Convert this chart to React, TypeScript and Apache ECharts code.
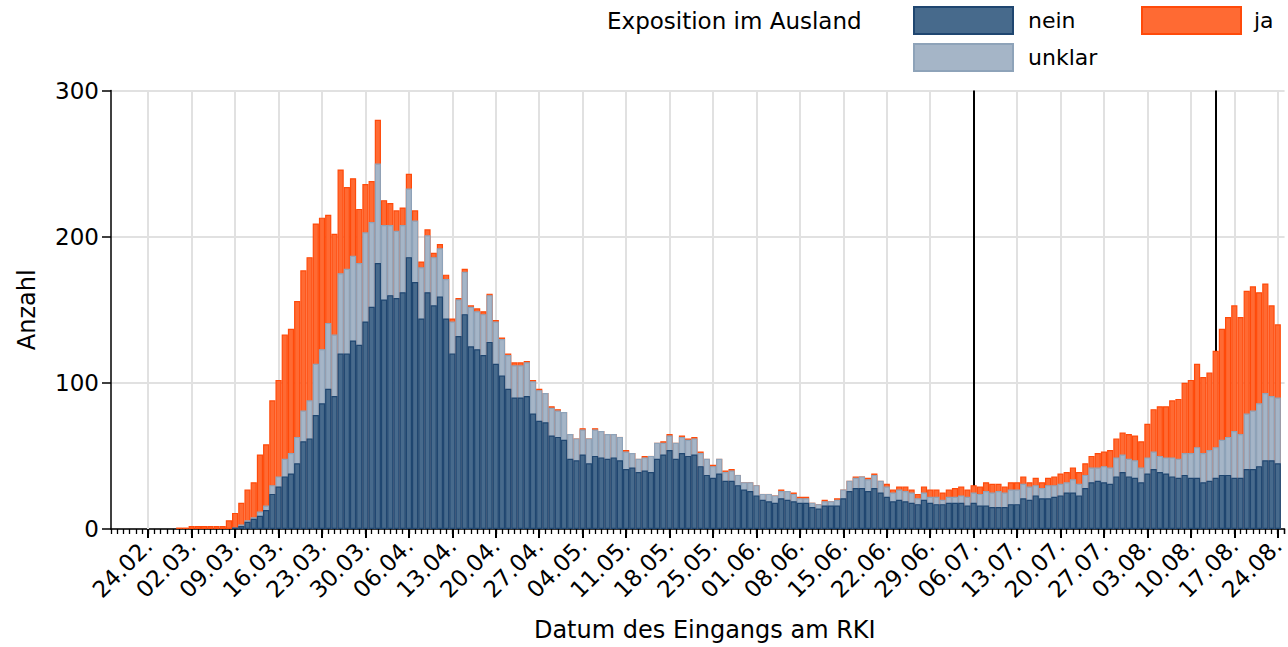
import React, { useEffect, useRef } from 'react';
import * as echarts from 'echarts';

// Day numbers are counted from 24.02. (day 0); the first bar is 19.02.
const FIRST_DAY = -5;
const weekLabels = [
  '24.02.', '02.03.', '09.03.', '16.03.', '23.03.', '30.03.', '06.04.', '13.04.', '20.04.',
  '27.04.', '04.05.', '11.05.', '18.05.', '25.05.', '01.06.', '08.06.', '15.06.', '22.06.',
  '29.06.', '06.07.', '13.07.', '20.07.', '27.07.', '03.08.', '10.08.', '17.08.', '24.08.',
];
const markerDays = [133, 172]; // 06.07. and 14.08.

const nein = [
  0, 0, 0, 0, 0,
  0, 0, 0, 0, 0, 0, 0,
  0, 0, 0, 0, 0, 0, 0,
  1, 2, 5, 7, 9, 13, 24,
  29, 36, 38, 45, 60, 62, 78,
  86, 96, 91, 120, 120, 129, 126,
  142, 152, 182, 157, 160, 158, 162,
  186, 169, 144, 162, 153, 159, 144,
  120, 132, 147, 125, 123, 119, 128,
  113, 105, 96, 90, 90, 91, 79,
  74, 73, 64, 63, 61, 48, 47,
  51, 45, 50, 49, 48, 49, 47,
  41, 42, 39, 40, 39, 48, 51,
  54, 48, 52, 50, 51, 43, 37,
  35, 38, 33, 33, 30, 27, 26,
  23, 20, 19, 18, 21, 20, 19,
  18, 18, 15, 14, 16, 16, 16,
  21, 26, 28, 28, 26, 28, 25,
  22, 19, 20, 19, 18, 17, 20,
  18, 17, 17, 18, 18, 18, 16,
  18, 16, 16, 15, 15, 15, 17,
  17, 21, 20, 23, 21, 21, 22,
  23, 25, 25, 23, 28, 32, 33,
  32, 31, 36, 39, 36, 35, 32,
  38, 41, 39, 38, 36, 35, 37,
  35, 35, 32, 33, 35, 37, 37,
  35, 35, 41, 41, 43, 47, 47,
  45,
];
const unklar = [
  0, 0, 0, 0, 0,
  0, 0, 0, 0, 0, 0, 0,
  0, 0, 0, 0, 0, 0, 0,
  0, 1, 1, 1, 3, 3, 6,
  7, 12, 14, 18, 21, 26, 35,
  37, 45, 42, 55, 58, 58, 56,
  61, 58, 68, 51, 48, 46, 46,
  47, 42, 35, 39, 33, 33, 27,
  22, 25, 29, 27, 26, 28, 32,
  29, 25, 23, 22, 22, 23, 22,
  21, 20, 19, 18, 19, 17, 15,
  17, 17, 18, 18, 17, 16, 16,
  12, 10, 9, 9, 11, 11, 8,
  10, 11, 11, 11, 11, 9, 11,
  8, 10, 6, 7, 7, 5, 6,
  7, 4, 5, 5, 5, 6, 5,
  3, 3, 3, 3, 3, 3, 4,
  6, 7, 7, 8, 8, 9, 8,
  7, 6, 7, 7, 7, 4, 5,
  4, 5, 3, 4, 4, 5, 6,
  7, 8, 10, 10, 11, 10, 10,
  10, 10, 9, 7, 7, 9, 8,
  8, 7, 9, 8, 9, 10, 9,
  11, 11, 13, 12, 12, 12, 10,
  11, 12, 11, 11, 13, 13, 15,
  17, 21, 20, 21, 21, 24, 26,
  32, 30, 38, 40, 43, 46, 44,
  45,
];
const ja = [
  0, 0, 0, 0, 0,
  0, 0, 0, 0, 0, 1, 1,
  2, 2, 2, 2, 2, 2, 6,
  10, 15, 21, 24, 39, 42, 58,
  66, 85, 85, 93, 96, 98, 96,
  90, 74, 69, 71, 56, 53, 37,
  33, 28, 30, 17, 15, 14, 12,
  10, 7, 4, 4, 3, 3, 3,
  2, 1, 2, 1, 2, 2, 1,
  1, 1, 1, 2, 2, 1, 1,
  1, 0, 1, 1, 0, 0, 0,
  1, 0, 1, 0, 0, 0, 0,
  1, 0, 0, 1, 0, 0, 1,
  1, 0, 1, 1, 1, 1, 0,
  1, 0, 1, 1, 0, 0, 0,
  0, 0, 0, 0, 1, 0, 1,
  1, 1, 0, 0, 1, 0, 1,
  0, 0, 1, 0, 1, 1, 0,
  2, 2, 2, 3, 2, 3, 4,
  5, 5, 5, 5, 6, 6, 5,
  5, 5, 6, 6, 5, 4, 5,
  5, 5, 3, 5, 4, 5, 6,
  7, 7, 8, 8, 8, 8, 10,
  10, 12, 13, 15, 17, 17, 18,
  23, 29, 34, 35, 39, 41, 48,
  50, 57, 52, 53, 66, 76, 82,
  86, 80, 84, 85, 76, 75, 62,
  50,
];

const FONT = 'DejaVu Sans';

export default function App() {
  const ref = useRef<HTMLDivElement>(null);
  useEffect(() => {
    const chart = echarts.init(ref.current as HTMLDivElement, null, { renderer: 'svg' });
    // Stack tops (nein, nein+unklar, nein+unklar+ja); drawn overlapping, tallest first.
    const topNein = nein.map((v) => v);
    const topUnklar = nein.map((v, i) => v + unklar[i]);
    const topJa = nein.map((v, i) => v + unklar[i] + ja[i]);
    const toData = (tops: number[], own: number[]) =>
      tops.map((v, i) =>
        own[i] === 0 || v === 0
          ? { value: [i + FIRST_DAY, v], itemStyle: { borderWidth: 0, opacity: v === 0 ? 0 : 1 } }
          : { value: [i + FIRST_DAY, v] }
      );
    const tickVals = weekLabels.map((_, k) => k * 7);
    const xMin = -6;
    const xMax = 183.1;
    const barBase = {
      type: 'bar',
      barWidth: 6.2,
      barGap: '-100%',
      xAxisIndex: 0,
      yAxisIndex: 0,
      z: 2,
      emphasis: { disabled: true },
    };
    const legendText = { fontSize: 22, color: '#000', fontFamily: FONT };
    chart.setOption({
      animation: false,
      textStyle: { fontFamily: FONT },
      grid: { left: 111, right: 0, top: 90.5, bottom: 115, containLabel: false },
      legend: [
        {
          data: ['nein'], left: 913, top: 6, padding: 0, itemWidth: 99, itemHeight: 27,
          icon: 'rect', selectedMode: false,
          textStyle: { ...legendText, padding: [0, 0, 0, 10] },
        },
        {
          data: ['ja'], left: 1141, top: 6, padding: 0, itemWidth: 99, itemHeight: 27,
          icon: 'rect', selectedMode: false,
          textStyle: { ...legendText, padding: [0, 0, 0, 8] },
        },
        {
          data: ['unklar'], left: 913, top: 43, padding: 0, itemWidth: 99, itemHeight: 27,
          icon: 'rect', selectedMode: false,
          textStyle: { ...legendText, padding: [0, 0, 0, 10] },
        },
      ],
      graphic: [
        {
          type: 'text',
          x: 607,
          y: 21,
          style: {
            text: 'Exposition im Ausland',
            fill: '#000',
            font: `23px "${FONT}"`,
            verticalAlign: 'middle',
            align: 'left',
          },
        },
      ],
      xAxis: [
        {
          type: 'value',
          position: 'bottom',
          min: xMin,
          max: xMax,
          name: 'Datum des Eingangs am RKI',
          nameLocation: 'middle',
          nameGap: 89,
          nameTextStyle: { fontSize: 24, color: '#000', fontFamily: FONT, padding: [0, 0, 0, 14] },
          axisLine: { show: true, onZero: false, lineStyle: { color: '#000', width: 1.5 } },
          axisTick: { show: true, customValues: tickVals, length: 9, lineStyle: { color: '#000', width: 2 } },
          axisLabel: {
            show: true,
            customValues: tickVals,
            formatter: (v: number) => weekLabels[Math.round(v / 7)] ?? '',
            rotate: 45,
            margin: 13,
            fontSize: 23,
            color: '#000',
            fontFamily: FONT,
          },
          splitLine: { show: false },
        },
        {
          type: 'value',
          position: 'bottom',
          min: xMin,
          max: xMax,
          interval: 1,
          axisLine: { show: false, onZero: false },
          axisTick: { show: true, length: 5, lineStyle: { color: '#000', width: 1.3 } },
          axisLabel: { show: false },
          splitLine: { show: false },
        },
      ],
      yAxis: {
        type: 'value',
        min: 0,
        max: 300,
        interval: 100,
        name: 'Anzahl',
        nameLocation: 'middle',
        nameRotate: 90,
        nameGap: 72,
        nameTextStyle: { fontSize: 24, color: '#000', fontFamily: FONT },
        axisLine: { show: true, onZero: false, lineStyle: { color: '#000', width: 1.5 } },
        axisTick: { show: true, length: 9, lineStyle: { color: '#000', width: 1.5 } },
        axisLabel: { fontSize: 23, color: '#000', margin: 12, fontFamily: FONT },
        splitLine: { show: true, lineStyle: { color: '#e1e1e1', width: 2 } },
      },
      series: [
        {
          ...barBase,
          name: 'ja',
          itemStyle: { color: '#ff6a33', borderColor: '#ff4a0a', borderWidth: 1.2 },
          data: toData(topJa, ja),
          markLine: {
            silent: true,
            symbol: 'none',
            z: 1,
            label: { show: false },
            emphasis: { disabled: true },
            lineStyle: { color: '#e1e1e1', width: 2, type: 'solid' },
            data: tickVals.map((v) => ({ xAxis: v })),
          },
        },
        {
          ...barBase,
          name: 'unklar',
          itemStyle: { color: '#a5b5c7', borderColor: '#8ea3b9', borderWidth: 1.2 },
          data: toData(topUnklar, unklar),
          markLine: {
            silent: true,
            symbol: 'none',
            z: 1.5,
            label: { show: false },
            emphasis: { disabled: true },
            lineStyle: { color: '#000', width: 2, type: 'solid' },
            data: markerDays.map((v) => ({ xAxis: v })),
          },
        },
        {
          ...barBase,
          name: 'nein',
          itemStyle: { color: '#476a8c', borderColor: '#1f4670', borderWidth: 1.2 },
          data: toData(topNein, nein),
        },
      ],
    });
    return () => chart.dispose();
  }, []);
  return (
    <div
      ref={ref}
      style={{ position: 'fixed', left: 0, top: 0, width: 1288, height: 647, background: '#fff' }}
    />
  );
}
